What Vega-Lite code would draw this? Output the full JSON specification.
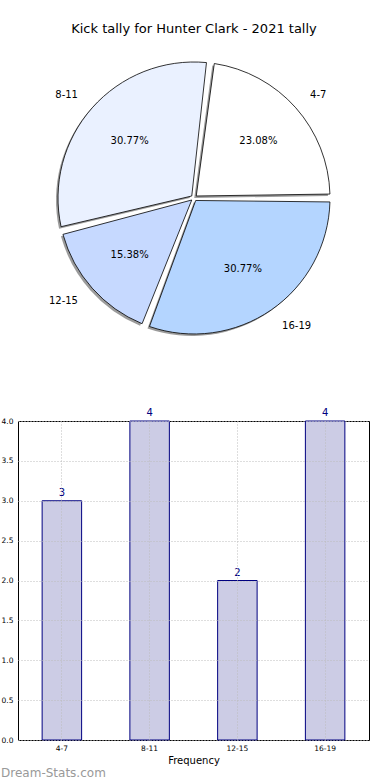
{
  "$schema": "https://vega.github.io/schema/vega-lite/v6.json",
  "padding": {"left": 0, "top": 23, "right": 0, "bottom": 0},
  "background": "white",
  "bounds": "flush",
  "spacing": 73,
  "datasets": {
    "kicks": [
      {"range": "4-7", "start": 4, "count": 3, "pct": "23.08%"},
      {"range": "8-11", "start": 8, "count": 4, "pct": "30.77%"},
      {"range": "12-15", "start": 12, "count": 2, "pct": "15.38%"},
      {"range": "16-19", "start": 16, "count": 4, "pct": "30.77%"}
    ]
  },
  "config": {
    "view": {"stroke": "black", "strokeWidth": 1},
    "axis": {"labelFont": "DejaVu Sans", "labelFontSize": 7.5, "labelColor": "black", "titleFont": "DejaVu Sans", "titleFontWeight": "normal", "titleColor": "black", "gridColor": "#bdbdbd", "gridDash": [1, 2], "gridWidth": 1, "domain": false, "tickSize": 0}
  },
  "vconcat": [
    {
      "width": 352,
      "height": 300,
      "view": {"stroke": null},
      "title": {"text": "Kick tally for Hunter Clark - 2021 tally", "fontSize": 13, "font": "DejaVu Sans", "fontWeight": "normal", "color": "black", "anchor": "middle", "offset": 12, "frame": "group"},
      "data": {"name": "kicks"},
      "encoding": {
        "theta": {"field": "count", "type": "quantitative", "stack": true, "scale": {"range": [1.5708, 7.854]}},
        "order": {"field": "start", "sort": "descending"}
      },
      "layer": [
        {"mark": {"type": "arc", "outerRadius": 136, "innerRadius": 3, "padAngle": 0.058, "fill": "#707070", "opacity": 0.7, "xOffset": -2, "yOffset": 2}},
        {"mark": {"type": "arc", "outerRadius": 136, "innerRadius": 3, "padAngle": 0.058, "stroke": "black", "strokeWidth": 0.8},
         "encoding": {"color": {"field": "range", "type": "nominal", "scale": {"domain": ["4-7", "8-11", "12-15", "16-19"], "range": ["#ffffff", "#eaf1ff", "#c6d9ff", "#b4d5ff"]}, "legend": null}}},
        {"mark": {"type": "text", "radius": 86, "fontSize": 10, "font": "DejaVu Sans", "color": "black"},
         "encoding": {"text": {"field": "pct"}}},
        {"mark": {"type": "text", "radius": 155, "fontSize": 10, "font": "DejaVu Sans", "color": "black", "align": {"expr": "datum.start == 4 || datum.start == 16 ? 'left' : 'right'"}},
         "encoding": {"text": {"field": "range"}}}
      ]
    },
    {
      "width": 351,
      "height": 319,
      "data": {"name": "kicks"},
      "title": {"text": "Dream-Stats.com", "orient": "bottom", "anchor": "start", "frame": "bounds", "fontSize": 12, "font": "DejaVu Sans", "fontWeight": "normal", "color": "#999999", "offset": 2},
      "encoding": {
        "x": {"field": "range", "type": "nominal", "sort": ["4-7", "8-11", "12-15", "16-19"], "scale": {"paddingInner": 0, "paddingOuter": 0},
              "axis": {"title": "Frequency", "titleFontSize": 10, "titlePadding": 4, "labelAngle": 0, "bandPosition": 0.5, "grid": true, "labelPadding": 4, "zindex": 1}},
        "y": {"field": "count", "type": "quantitative", "scale": {"domain": [0, 4], "nice": false},
              "axis": {"title": null, "values": [0, 0.5, 1, 1.5, 2, 2.5, 3, 3.5, 4], "format": ".1f", "grid": true, "labelPadding": 5, "zindex": 1}}
      },
      "layer": [
        {"mark": {"type": "bar", "width": {"band": 0.45}, "fill": "#ccccE5", "stroke": "#000080", "strokeWidth": 1}},
        {"mark": {"type": "text", "dy": -3, "baseline": "bottom", "color": "#000080", "fontSize": 10, "font": "DejaVu Sans"},
         "encoding": {"text": {"field": "count"}}}
      ]
    }
  ]
}
